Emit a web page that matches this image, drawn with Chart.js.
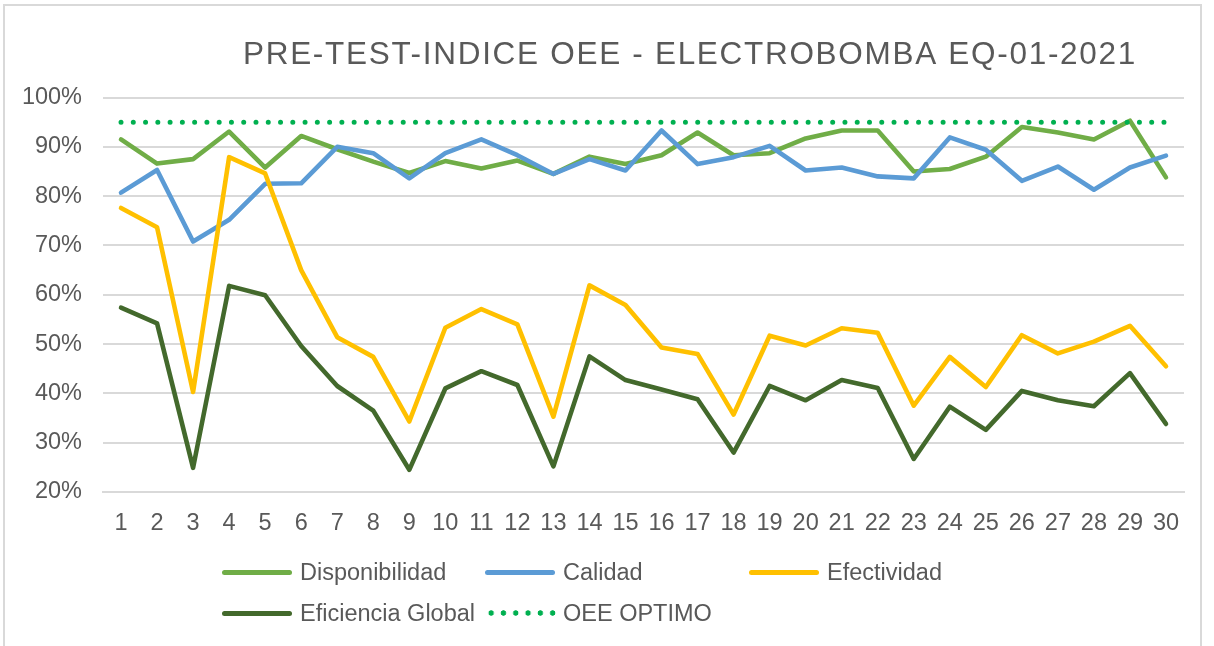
<!DOCTYPE html>
<html>
<head>
<meta charset="utf-8">
<script src="https://cdn.jsdelivr.net/npm/chart.js@4/dist/chart.umd.min.js"></script>
<style>
    body { margin: 0; background: #fff; font-family: "Liberation Sans", Arial, sans-serif; }
    #marco { position: absolute; left: 3px; top: 4px; width: 1195px; height: 700px; border: 2px solid #d9d9d9; }
    #grafico { position: absolute; left: 0; top: 0; }
    #leyenda { position: absolute; left: 0; top: 0; width: 1214px; height: 646px; pointer-events: none; }
    .item { position: absolute; display: flex; align-items: center; height: 30px; color: #595959; font-size: 23.5px; white-space: nowrap; }
    .linea { width: 70px; height: 5px; border-radius: 3px; margin-right: 8px; }
    .puntos { width: 72px; height: 6px; margin-right: 6px; background-repeat: repeat-x; background-size: 12.3px 6px; }
</style>
</head>
<body>
<div id="marco"></div>
<canvas id="grafico" width="1214" height="646"></canvas>
<div id="leyenda"></div>
<script>
// Datos
const titulo = 'PRE-TEST-INDICE OEE - ELECTROBOMBA EQ-01-2021';
const dias = ['1','2','3','4','5','6','7','8','9','10','11','12','13','14','15','16','17','18','19','20','21','22','23','24','25','26','27','28','29','30'];

const disponibilidad = [91.5, 86.6, 87.5, 93.1, 85.8, 92.2, 89.5, 87.0, 84.7, 87.1, 85.6, 87.2, 84.5, 88.0, 86.5, 88.3, 92.9, 88.3, 88.7, 91.7, 93.3, 93.3, 85.0, 85.5, 88.0, 94.0, 92.9, 91.5, 95.3, 83.8];
const calidad = [80.7, 85.3, 70.8, 75.2, 82.5, 82.6, 90.0, 88.7, 83.6, 88.7, 91.5, 88.3, 84.5, 87.5, 85.2, 93.3, 86.5, 87.9, 90.2, 85.2, 85.8, 84.0, 83.6, 91.9, 89.4, 83.1, 86.0, 81.3, 85.8, 88.2];
const efectividad = [77.6, 73.7, 40.3, 87.9, 84.6, 65.0, 51.4, 47.4, 34.3, 53.3, 57.1, 54.0, 35.3, 61.9, 57.9, 49.3, 48.0, 35.7, 51.7, 49.7, 53.2, 52.3, 37.5, 47.4, 41.3, 51.8, 48.1, 50.5, 53.7, 45.5];
const eficiencia = [57.4, 54.2, 24.9, 61.8, 59.9, 49.6, 41.5, 36.5, 24.5, 41.0, 44.5, 41.7, 25.2, 47.5, 42.7, 40.8, 38.8, 28.0, 41.5, 38.6, 42.7, 41.1, 26.7, 37.3, 32.6, 40.5, 38.6, 37.4, 44.1, 33.8];
const oeeOptimo = [95, 95, 95, 95, 95, 95, 95, 95, 95, 95, 95, 95, 95, 95, 95, 95, 95, 95, 95, 95, 95, 95, 95, 95, 95, 95, 95, 95, 95, 95];

const series = [
    { nombre: 'Disponibilidad', datos: disponibilidad, color: '#70ad47' },
    { nombre: 'Calidad', datos: calidad, color: '#5b9bd5' },
    { nombre: 'Efectividad', datos: efectividad, color: '#ffc000' },
    { nombre: 'Eficiencia Global', datos: eficiencia, color: '#43692c' },
    { nombre: 'OEE OPTIMO', datos: oeeOptimo, color: '#00b050', punteado: true }
];

const gris = '#595959';
const fuente = { family: '"Liberation Sans", Arial, sans-serif', size: 23.5 };

// Titulo dibujado aparte (va corrido a la derecha como en Excel)
const tituloPlugin = {
    id: 'titulo',
    afterDraw(chart) {
        const ctx = chart.ctx;
        ctx.save();
        ctx.font = '31.5px "Liberation Sans", Arial, sans-serif';
        ctx.fillStyle = gris;
        ctx.letterSpacing = '1.7px';
        ctx.textAlign = 'left';
        ctx.textBaseline = 'alphabetic';
        ctx.fillText(titulo, 243, 64);
        ctx.restore();
    }
};

const datasets = series.map((s, i) => ({
    label: s.nombre,
    data: s.datos,
    borderColor: s.color,
    backgroundColor: s.color,
    borderWidth: s.punteado ? 5 : 4.6,
    borderDash: s.punteado ? [0, 12.27] : [],
    borderCapStyle: 'round',
    borderJoinStyle: 'round',
    pointRadius: 0,
    tension: 0,
    fill: false,
    order: series.length - i
}));

new Chart(document.getElementById('grafico'), {
    type: 'line',
    data: { labels: dias, datasets: datasets },
    options: {
        responsive: false,
        animation: false,
        layout: { padding: { top: 97.5, right: 30, left: 0, bottom: 0 } },
        plugins: {
            legend: { display: false },
            title: { display: false },
            tooltip: { enabled: false }
        },
        scales: {
            x: {
                offset: true,
                grid: { display: false, drawTicks: false },
                border: { color: '#d9d9d9', width: 2 },
                ticks: { color: gris, font: fuente, padding: 17, maxRotation: 0, autoSkip: false },
                afterFit: (s) => { s.height = 154; }
            },
            y: {
                min: 20,
                max: 100,
                grid: { color: '#d9d9d9', lineWidth: 2, drawTicks: false },
                border: { display: false },
                ticks: { stepSize: 10, color: gris, font: fuente, padding: 21, callback: (v) => v + '%' },
                afterFit: (s) => { s.width = 103; }
            }
        }
    },
    plugins: [tituloPlugin]
});

// Leyenda en columnas como la del original
const leyenda = document.getElementById('leyenda');
const posiciones = [[222, 557], [485, 557], [749, 557], [222, 598], [485, 598]];
series.forEach((s, i) => {
    const item = document.createElement('div');
    item.className = 'item';
    item.style.left = posiciones[i][0] + 'px';
    item.style.top = posiciones[i][1] + 'px';
    const muestra = document.createElement('span');
    if (s.punteado) {
        muestra.className = 'puntos';
        muestra.style.backgroundImage = `radial-gradient(circle, ${s.color} 2.4px, transparent 3px)`;
    } else {
        muestra.className = 'linea';
        muestra.style.background = s.color;
    }
    const texto = document.createElement('span');
    texto.textContent = s.nombre;
    item.appendChild(muestra);
    item.appendChild(texto);
    leyenda.appendChild(item);
});
</script>
</body>
</html>
